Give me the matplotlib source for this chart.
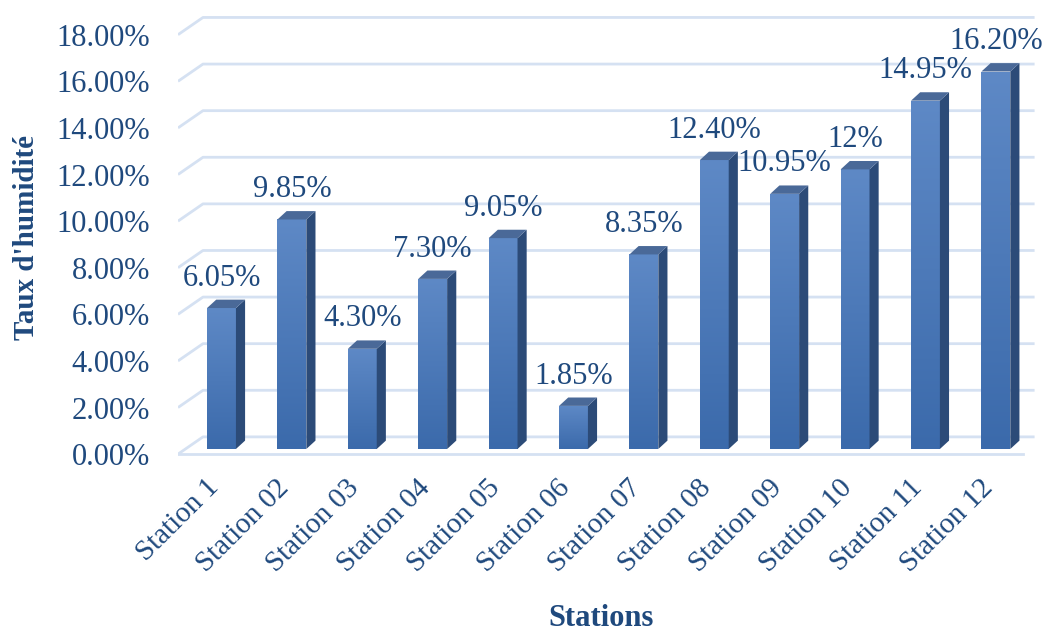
import matplotlib
matplotlib.use('Agg')
import matplotlib.pyplot as plt
from matplotlib.patches import Polygon
from matplotlib.colors import LinearSegmentedColormap
import matplotlib.transforms as mtransforms
import numpy as np

# ---- data ----
stations = ['Station 1', 'Station 02', 'Station 03', 'Station 04', 'Station 05', 'Station 06',
            'Station 07', 'Station 08', 'Station 09', 'Station 10', 'Station 11', 'Station 12']
humidity = [6.05, 9.85, 4.30, 7.30, 9.05, 1.85, 8.35, 12.40, 10.95, 12.0, 14.95, 16.20]
value_labels = ['6.05%', '9.85%', '4.30%', '7.30%', '9.05%', '1.85%',
                '8.35%', '12.40%', '10.95%', '12%', '14.95%', '16.20%']
y_ticks = [0, 2, 4, 6, 8, 10, 12, 14, 16, 18]
y_ticklabels = ['%.2f%%' % t for t in y_ticks]

# ---- style ----
TXT = '#1F497D'
GRID = '#D5E1F2'
plt.rcParams['font.family'] = ['Liberation Serif', 'DejaVu Serif']

# pseudo-3D geometry (data units)
BAR_W = 0.41
DEPTH_X = 0.13
DEPTH_Y = 0.36
FRONT_DROP = 0.22
BACK_RISE = 0.52
X_LEFT, X_BACK, X_RIGHT, X_FLOOR = -0.618, -0.263, 11.55, 11.38

fig = plt.figure(figsize=(10.45, 6.33), dpi=100)
ax = fig.add_axes([178 / 1045, 173 / 633, 862 / 1045, 450 / 633])

# gridlines (side wall + back wall)
for t in y_ticks:
    ax.plot([X_LEFT, X_BACK, X_RIGHT], [t - FRONT_DROP, t + BACK_RISE, t + BACK_RISE],
            color=GRID, lw=2, zorder=1, solid_capstyle='butt')
ax.plot([X_LEFT, X_FLOOR], [-FRONT_DROP, -FRONT_DROP], color=GRID, lw=2, zorder=1)

front_cmap = LinearSegmentedColormap.from_list('front', ['#3B6AAB', '#5E89C6'])
grad = np.linspace(0, 1, 256).reshape(-1, 1)

for i, v in enumerate(humidity):
    x0, x1 = i - BAR_W / 2, i + BAR_W / 2
    front = Polygon([(x0, 0), (x1, 0), (x1, v), (x0, v)], closed=True,
                    facecolor='none', edgecolor='none', zorder=3)
    ax.add_patch(front)
    im = ax.imshow(grad, extent=[x0, x1, 0, v], origin='lower', aspect='auto',
                   cmap=front_cmap, zorder=3)
    im.set_clip_path(front)
    side = Polygon([(x1, 0), (x1 + DEPTH_X, DEPTH_Y), (x1 + DEPTH_X, v + DEPTH_Y), (x1, v)],
                   closed=True, facecolor='#2C4B78', edgecolor='none', zorder=3)
    top = Polygon([(x0, v), (x1, v), (x1 + DEPTH_X, v + DEPTH_Y), (x0 + DEPTH_X, v + DEPTH_Y)],
                  closed=True, facecolor='#4A6998', edgecolor='none', zorder=3)
    ax.add_patch(side)
    ax.add_patch(top)
    ax.text(i, v + DEPTH_Y + 0.3, value_labels[i], ha='center', va='bottom',
            fontsize=22, color=TXT, zorder=5)

ax.set_xlim(-0.618, 11.627)
ax.set_ylim(-0.472, 18.84)

ax.set_yticks([t - FRONT_DROP for t in y_ticks], y_ticklabels)
ax.set_xticks(range(len(stations)), stations)
ax.tick_params(axis='y', length=0, pad=20, labelsize=22, labelcolor=TXT)
ax.tick_params(axis='x', length=0, pad=17, labelsize=21, labelcolor=TXT)
shift = mtransforms.ScaledTranslation(-7 / 100, 0, fig.dpi_scale_trans)
for lab in ax.get_xticklabels():
    lab.set_rotation(45)
    lab.set_ha('right')
    lab.set_va('center')
    lab.set_rotation_mode('anchor')
    lab.set_transform(lab.get_transform() + shift)
for s in ax.spines.values():
    s.set_visible(False)

fig.text(27 / 1045, 1 - 237 / 633, "Taux d'humidité", rotation=90, ha='center', va='center',
         fontsize=21, fontweight='bold', color=TXT)
fig.text(601 / 1045, 1 - 619 / 633, 'Stations', ha='center', va='center',
         fontsize=22, fontweight='bold', color=TXT)

fig.savefig('out.png', dpi=100)
